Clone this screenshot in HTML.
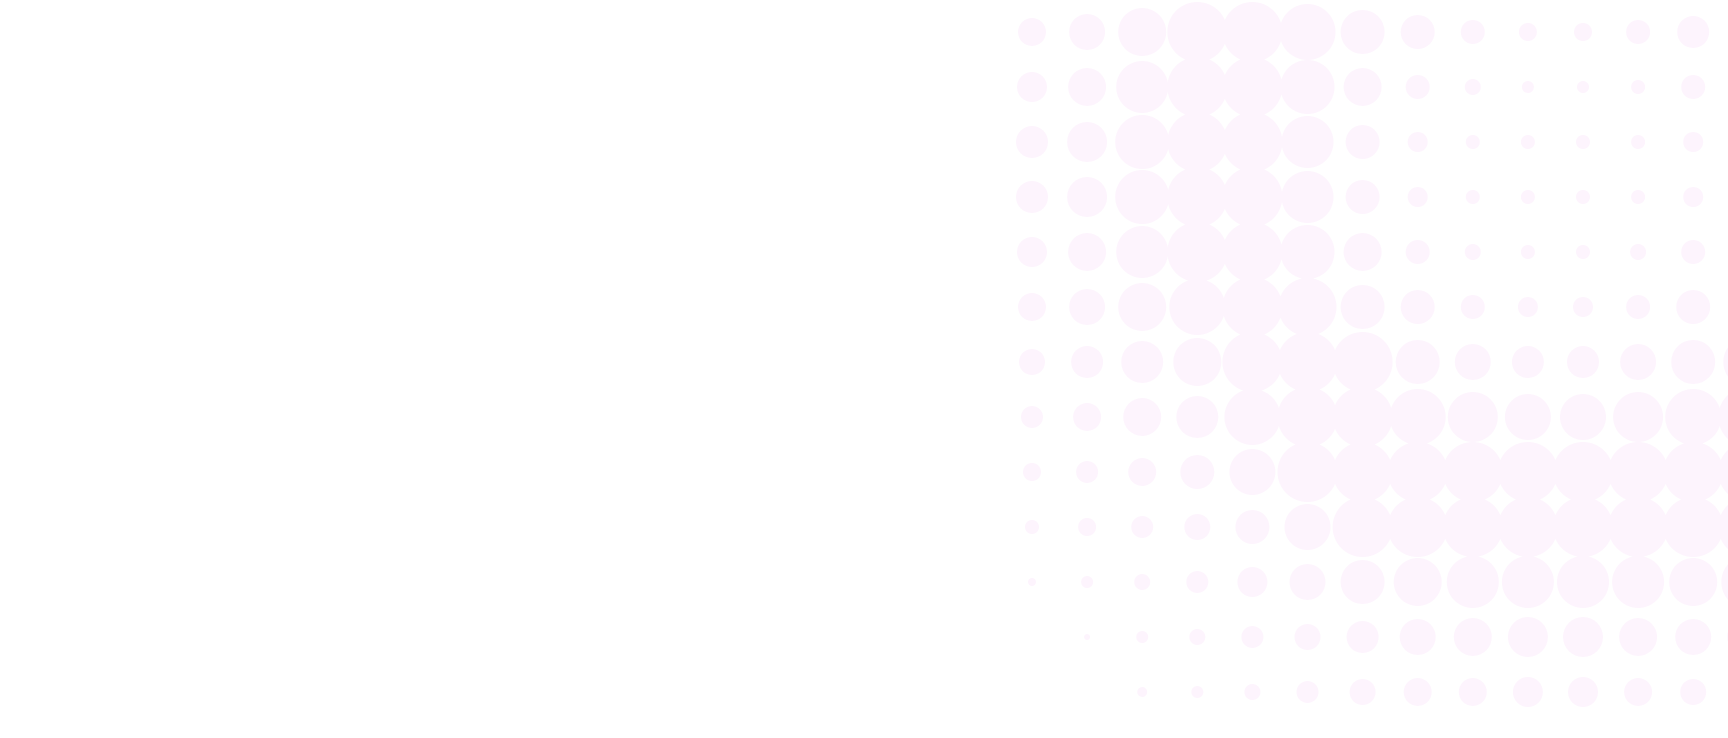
<!DOCTYPE html>
<html><head><meta charset="utf-8"><style>
html,body{margin:0;padding:0;background:#fff;width:1728px;height:738px;overflow:hidden}
svg{display:block}
</style></head><body>
<svg id="s" width="1728" height="738" viewBox="0 0 1728 738" xmlns="http://www.w3.org/2000/svg"><g id="g" fill="#fdf4fd"></g></svg>
<script>
var R=[
[14,15,16,16,15,14,13,11,9,7,4,0,0,0],
[18,19,20,20,19,18,16,14,11,9,6,3,0,0],
[24,26,27,27,26,24,21,19,14,11,8,6,5,0],
[30,30,30,30,30,28,24,21,17,13,11,8,6,0],
[30,30,30,30,30,30,30,28,23,17,15,11,8,3],
[28,27,26,26,27,29,30,30,30,23,18,13,11,5],
[22,19,17,17,19,22,30,30,30,30,22,16,13,8],
[17,12,10,10,12,17,22,28,30,30,24,18,14,9],
[12,8,7,7,8,12,18,25,30,30,26,19,14,9],
[9,6,7,7,7,10,16,23,30,30,26,20,15,9],
[9,6,7,7,7,10,16,23,30,30,26,20,15,9],
[12,7,7,7,8,12,18,25,30,30,26,19,14,9],
[16,12,10,10,12,17,22,28,30,30,24,18,13,9],
[19,15,13,13,15,20,25,30,30,30,27,21,16,11]
];
var g=document.getElementById('g'),h='';
for(var c=0;c<R.length;c++)for(var r=0;r<R[c].length;r++){var rad=R[c][r];if(rad>0)h+='<circle cx="'+(1032+55.1*c)+'" cy="'+(32+55*r)+'" r="'+rad+'"/>';}
g.innerHTML=h;
</script>
</body></html>
